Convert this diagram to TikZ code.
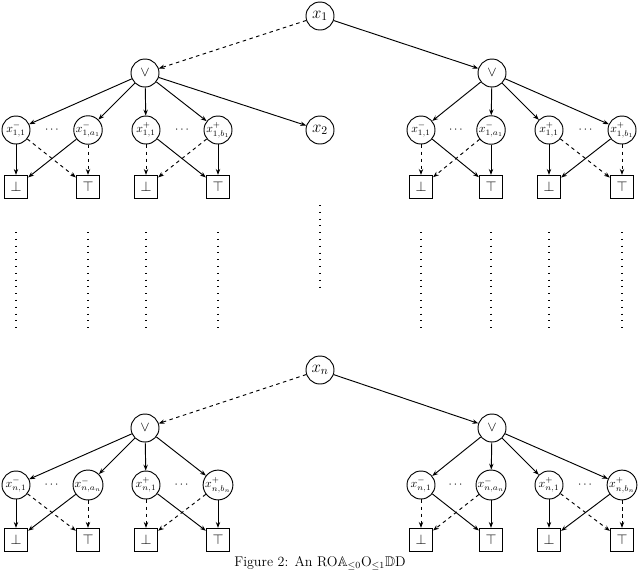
\documentclass[tikz,border=0pt]{standalone}
\usepackage{amssymb}
\usetikzlibrary{arrows.meta}
\begin{document}
\begin{tikzpicture}[x=0.03cm,y=-0.03cm,
  v/.style={circle,draw,thick,minimum size=0.84cm,inner sep=0pt,font=\Large},
  t/.style={rectangle,draw,thick,minimum size=0.7cm,inner sep=0pt,font=\large},
  s/.style={-{Stealth[length=5pt]},thick},
  d/.style={s,dashed},
  dots/.style={line width=1.3pt,dash pattern=on 0.8pt off 5pt}]
\useasboundingbox (0,0) rectangle (640,577);
\node[v] (x1) at (320,16) {$x_1$};
\node[v] (xn) at (320,370) {$x_n$};
\node[v] (x2) at (320,130) {$x_2$};
\foreach \k/\yo/\yv/\yb/\i/\r in {a/73/130/187/1/1, b/428/485/540/n/n}{
  \node[v,font=\large] (L\k) at (145,\yo) {$\vee$};
  \node[v,font=\large] (R\k) at (492,\yo) {$\vee$};
  \foreach \p/\x/\lab in {L1/16/{x^-_{\i,1}},L2/88/{x^-_{\i,a_{\r}}},L3/146/{x^+_{\i,1}},L4/218/{x^+_{\i,b_{\r}}},R1/421/{x^-_{\i,1}},R2/491/{x^-_{\i,a_{\r}}},R3/549/{x^+_{\i,1}},R4/622/{x^+_{\i,b_{\r}}}}{
    \node[v,font=\normalsize] (\p\k) at (\x,\yv) {$\lab$};
    \node[t] (B\p\k) at (\x,\yb) {$\ifnum\x=16 \bot\else\ifnum\x=146 \bot\else\ifnum\x=421 \bot\else\ifnum\x=549 \bot\else\top\fi\fi\fi\fi$};
  }
  \foreach \a/\b in {L1/L2,L3/L4,R1/R2,R3/R4}{
    \path (\a\k) -- node{$\cdots$} (\b\k);
  }
  \foreach \p in {L1,L2,L3,L4}{\draw[s] (L\k) -- (\p\k);}
  \foreach \p in {R1,R2,R3,R4}{\draw[s] (R\k) -- (\p\k);}
  \draw[s] (L1\k) -- (BL1\k); \draw[d] (L1\k) -- (BL2\k);
  \draw[s] (L2\k) -- (BL1\k); \draw[d] (L2\k) -- (BL2\k);
  \draw[d] (L3\k) -- (BL3\k); \draw[s] (L3\k) -- (BL4\k);
  \draw[d] (L4\k) -- (BL3\k); \draw[s] (L4\k) -- (BL4\k);
  \draw[d] (R1\k) -- (BR1\k); \draw[s] (R1\k) -- (BR2\k);
  \draw[d] (R2\k) -- (BR1\k); \draw[s] (R2\k) -- (BR2\k);
  \draw[s] (R3\k) -- (BR3\k); \draw[d] (R3\k) -- (BR4\k);
  \draw[s] (R4\k) -- (BR3\k); \draw[d] (R4\k) -- (BR4\k);
}
\draw[d] (x1) -- (La); \draw[s] (x1) -- (Ra); \draw[s] (La) -- (x2);
\draw[d] (xn) -- (Lb); \draw[s] (xn) -- (Rb);
\foreach \x in {16,88,146,218,421,491,549,622}{
  \coordinate (t\x) at (\x,232); \coordinate (u\x) at (\x,332);
  \draw[dots] (t\x) -- (u\x);}
\coordinate (tc) at (320,205); \coordinate (uc) at (320,292);
\draw[dots] (tc) -- (uc);
\node[font=\large] (cap) at (320,563) {Figure 2: An RO$\mathbb{A}_{\le0}$O$_{\le1}\mathbb{D}$D};
\end{tikzpicture}
\end{document}
